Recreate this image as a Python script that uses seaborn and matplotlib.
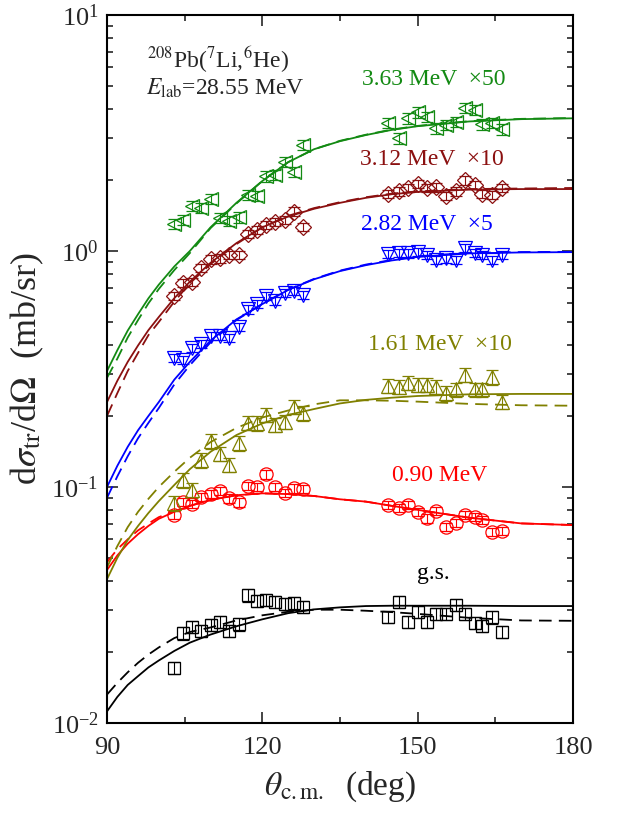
import numpy as np
import pandas as pd
import matplotlib
matplotlib.use("Agg")
import matplotlib.pyplot as plt
import seaborn as sns
from matplotlib.ticker import LogLocator, LogFormatterMathtext, MultipleLocator, NullFormatter

# --- dados ---
# angulos das curvas (deg)
theta_curve = [90, 92, 94, 96, 98, 100, 103, 106, 110, 115, 120, 125, 130, 135, 140, 145, 150, 160, 170, 180]

# curvas cheias (solid) e tracejadas (dashed) para cada estado
gs_solid = [0.0112, 0.0129, 0.0145, 0.0158, 0.0172, 0.0184, 0.0202, 0.0219, 0.0237, 0.0257,
            0.0275, 0.0292, 0.0303, 0.0309, 0.0313, 0.0314, 0.0314, 0.0314, 0.0313, 0.0313]
gs_dashed = [0.0132, 0.0148, 0.0164, 0.0180, 0.0195, 0.0209, 0.0229, 0.0243, 0.0254, 0.0272,
             0.0286, 0.0296, 0.0302, 0.0302, 0.0299, 0.0295, 0.0290, 0.0279, 0.0272, 0.0271]
e090_solid = [0.0445, 0.0513, 0.0575, 0.0631, 0.0684, 0.0733, 0.0785, 0.0832, 0.0881, 0.0923,
              0.0940, 0.0933, 0.0916, 0.0887, 0.0867, 0.0832, 0.0800, 0.0741, 0.0701, 0.0690]
e090_dashed = [0.0480, 0.0545, 0.0600, 0.0655, 0.0700, 0.0745, 0.0790, 0.0832, 0.0881, 0.0923,
               0.0940, 0.0933, 0.0916, 0.0887, 0.0867, 0.0832, 0.0800, 0.0741, 0.0701, 0.0690]
e161_solid = [0.0407, 0.0501, 0.0596, 0.0684, 0.0776, 0.0871, 0.102, 0.119, 0.141, 0.166,
              0.186, 0.202, 0.214, 0.226, 0.234, 0.239, 0.243, 0.247, 0.248, 0.248]
e161_dashed = [0.0457, 0.0562, 0.0676, 0.0785, 0.0891, 0.100, 0.116, 0.133, 0.155, 0.178,
               0.197, 0.211, 0.224, 0.233, 0.233, 0.232, 0.230, 0.225, 0.222, 0.221]
e282_solid = [0.100, 0.123, 0.148, 0.174, 0.200, 0.229, 0.285, 0.339, 0.417, 0.513,
              0.596, 0.684, 0.759, 0.822, 0.871, 0.912, 0.944, 0.977, 0.986, 0.989]
e282_dashed = [0.090, 0.111, 0.135, 0.161, 0.187, 0.216, 0.272, 0.328, 0.410, 0.510,
               0.596, 0.686, 0.762, 0.826, 0.876, 0.917, 0.950, 0.982, 0.990, 0.992]
e312_solid = [0.229, 0.282, 0.339, 0.398, 0.462, 0.525, 0.631, 0.741, 0.891, 1.08,
              1.26, 1.40, 1.51, 1.60, 1.68, 1.74, 1.78, 1.82, 1.83, 1.83]
e312_dashed = [0.20, 0.25, 0.31, 0.37, 0.44, 0.50, 0.61, 0.73, 0.88, 1.07,
               1.26, 1.41, 1.52, 1.61, 1.69, 1.75, 1.79, 1.83, 1.84, 1.85]
e363_solid = [0.31, 0.38, 0.46, 0.54, 0.63, 0.72, 0.86, 1.00, 1.26, 1.60,
              1.98, 2.38, 2.70, 2.92, 3.10, 3.26, 3.38, 3.54, 3.62, 3.65]
e363_dashed = [0.29, 0.35, 0.43, 0.51, 0.60, 0.69, 0.83, 0.98, 1.25, 1.59,
               1.98, 2.38, 2.70, 2.93, 3.11, 3.27, 3.39, 3.55, 3.63, 3.66]

# angulos experimentais (deg)
theta_data = [103.0, 104.7, 106.4, 108.2, 110.0, 111.8, 113.6, 115.5, 117.3, 119.0, 120.8, 122.5, 124.4, 126.1, 127.9,
              144.3, 146.3, 148.2, 150.1, 151.8, 153.6, 155.4, 157.4, 159.1, 161.0, 162.5, 164.4, 166.3]

gs_data = [0.0171, 0.0240, 0.0256, 0.0245, 0.0260, 0.0269, 0.0245, 0.0262, 0.0348, 0.0330, 0.0332, 0.0327, 0.0319, 0.0321, 0.0311,
           0.0282, 0.0327, 0.0269, 0.0296, 0.0269, 0.0290, 0.0290, 0.0316, 0.0290, 0.0266, 0.0258, 0.0280, 0.0244]
e090_data = [0.0760, 0.0867, 0.0848, 0.0910, 0.0934, 0.0965, 0.0895, 0.0861, 0.101, 0.0997, 0.113, 0.0997, 0.0946, 0.0987, 0.0980,
             0.0839, 0.0813, 0.0839, 0.0785, 0.0736, 0.0794, 0.0679, 0.0702, 0.0760, 0.0748, 0.0724, 0.0647, 0.0653]
e161_data = [0.0853, 0.107, 0.097, 0.130, 0.156, 0.138, 0.124, 0.153, 0.187, 0.186, 0.202, 0.183, 0.189, 0.219, 0.205,
             0.268, 0.266, 0.277, 0.271, 0.271, 0.266, 0.250, 0.259, 0.299, 0.259, 0.259, 0.292, 0.230]
e282_data = [0.351, 0.345, 0.387, 0.404, 0.436, 0.436, 0.427, 0.478, 0.566, 0.596, 0.644, 0.615, 0.665, 0.679, 0.651,
             0.971, 0.984, 0.977, 0.993, 0.962, 0.916, 0.931, 0.916, 1.03, 0.984, 0.962, 0.916, 0.962]
e312_data = [0.647, 0.734, 0.741, 0.845, 0.922, 0.931, 0.962, 0.962, 1.18, 1.23, 1.29, 1.33, 1.35, 1.47, 1.26,
             1.75, 1.79, 1.85, 1.92, 1.85, 1.86, 1.71, 1.79, 1.99, 1.91, 1.75, 1.73, 1.85]
e363_data = [1.30, 1.35, 1.55, 1.52, 1.66, 1.38, 1.34, 1.39, 1.73, 1.71, 2.07, 2.10, 2.39, 2.17, 2.81,
             3.48, 3.00, 3.65, 3.87, 3.69, 3.31, 3.42, 3.53, 4.03, 3.96, 3.44, 3.50, 3.28]

# erro relativo de cada conjunto
rel_err = {"gs": 0.06, "e090": 0.04, "e161": 0.07, "e282": 0.04, "e312": 0.04, "e363": 0.05}

labels = ["g.s.", "0.90 MeV", "1.61 MeV  \u00d710", "2.82 MeV  \u00d75", "3.12 MeV  \u00d710", "3.63 MeV  \u00d750"]
# posicao (theta, valor) do canto esquerdo de cada rotulo
label_theta = [149.8, 145.0, 140.4, 139.0, 138.8, 139.2]
label_value = [0.0432, 0.112, 0.40, 1.29, 2.43, 5.31]

# --- estilo ---
series = [
    ("gs", gs_solid, gs_dashed, gs_data, "black", "s", 8),
    ("e090", e090_solid, e090_dashed, e090_data, "#ff0000", "o", 9.5),
    ("e161", e161_solid, e161_dashed, e161_data, "#808000", "^", 10.5),
    ("e282", e282_solid, e282_dashed, e282_data, "#0000ff", "v", 10.5),
    ("e312", e312_solid, e312_dashed, e312_data, "#8b1010", "D", 8.5),
    ("e363", e363_solid, e363_dashed, e363_data, "#138a13", "<", 10.5),
]

sns.set_theme(style="ticks")
plt.rcParams["font.family"] = ["Liberation Serif", "DejaVu Serif"]
plt.rcParams["mathtext.fontset"] = "stix"

fig = plt.figure(figsize=(6.17, 8.31), dpi=100)
ax = fig.add_axes([107 / 617, 1 - 723 / 831, 466 / 617, 708 / 831])

for key, solid, dashed, data, color, marker, ms in series:
    sns.lineplot(x=theta_curve, y=solid, ax=ax, color=color, lw=1.3, sort=False)
    sns.lineplot(x=theta_curve, y=dashed, ax=ax, color=color, lw=1.3, sort=False,
                 dashes=False, linestyle=(0, (7, 4)))
    yv = np.array(data)
    ax.errorbar(theta_data, yv, yerr=rel_err[key] * yv, fmt=marker, ms=ms,
                mfc="none", mec=color, mew=0.9, ecolor=color, elinewidth=0.8,
                capsize=4, capthick=0.8, zorder=3)

ax.set_yscale("log")
ax.set_xlim(90, 180)
ax.set_ylim(0.01, 10)
ax.xaxis.set_major_locator(MultipleLocator(30))
ax.xaxis.set_minor_locator(MultipleLocator(15))
ax.yaxis.set_major_locator(LogLocator(base=10))
ax.yaxis.set_major_formatter(LogFormatterMathtext())
ax.yaxis.set_minor_locator(LogLocator(base=10, subs=np.arange(2, 10) * 1.0))
ax.yaxis.set_minor_formatter(NullFormatter())

ax.tick_params(which="both", direction="in", top=True, right=True, labelsize=19, width=1.2)
ax.tick_params(axis="x", pad=10)
ax.tick_params(axis="y", pad=6)
ax.tick_params(which="major", length=8)
ax.tick_params(which="minor", length=4.5)
for sp in ax.spines.values():
    sp.set_linewidth(1.5)
    sp.set_color("black")

ax.set_xlabel(r"$\theta_{\mathrm{c.m.}}$  (deg)", fontsize=24, labelpad=8)
ax.set_ylabel(r"d$\sigma_{\mathrm{tr}}$/d$\Omega$  (mb/sr)", fontsize=26, labelpad=4)

# rotulos das curvas
for (key, solid, dashed, data, color, marker, ms), text, lx, ly in zip(series, labels, label_theta, label_value):
    ax.text(lx, ly, text, color=color, fontsize=17, va="center", ha="left")

ax.text(0.238, 0.925, r"$^{208}$Pb($^{7}$Li,$^{6}$He)", transform=ax.transAxes,
        fontsize=17, ha="center", va="baseline")
ax.text(0.253, 0.888, r"$E_{\mathrm{lab}}$=28.55 MeV", transform=ax.transAxes,
        fontsize=17, ha="center", va="baseline")

fig.savefig("out.png", dpi=100)
